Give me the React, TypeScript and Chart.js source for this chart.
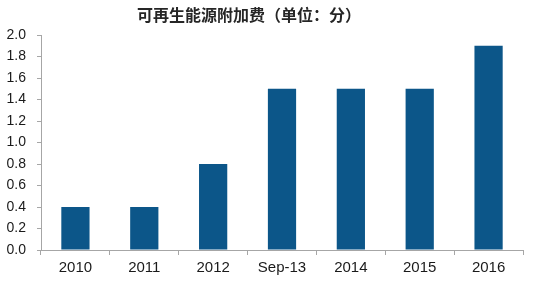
import React, { useEffect, useRef } from "react";
import { Chart, registerables } from "chart.js";

Chart.register(...registerables);

const categories = ["2010", "2011", "2012", "Sep-13", "2014", "2015", "2016"];
const surcharge = [0.4, 0.4, 0.8, 1.5, 1.5, 1.5, 1.9];
const yTicks = [0, 0.2, 0.4, 0.6, 0.8, 1.0, 1.2, 1.4, 1.6, 1.8, 2.0];
const titleText = "可再生能源附加费（单位：分）";

const W = 537;
const H = 287;
const AXIS = "#a6a6a6";

const titlePlugin = {
  id: "topTitle",
  afterDraw(chart: any) {
    const ctx = chart.ctx;
    ctx.save();
    ctx.fillStyle = "#262626";
    ctx.font = "bold 16px 'Noto Sans CJK SC', sans-serif";
    ctx.textAlign = "center";
    ctx.textBaseline = "middle";
    ctx.fillText(titleText, 249, 15);
    ctx.restore();
  },
};

export default function App() {
  const ref = useRef<HTMLCanvasElement | null>(null);

  useEffect(() => {
    if (!ref.current) return;
    const chart = new Chart(ref.current, {
      type: "bar",
      data: {
        labels: categories,
        datasets: [
          {
            data: surcharge,
            backgroundColor: "#0c5689",
            barPercentage: 0.41,
            categoryPercentage: 1,
          },
        ],
      },
      options: {
        responsive: false,
        animation: false,
        layout: { padding: { top: 35, right: 14, left: 0, bottom: 0 } },
        plugins: { legend: { display: false }, tooltip: { enabled: false } },
        scales: {
          x: {
            grid: {
              drawOnChartArea: false,
              drawTicks: true,
              tickLength: 5,
              color: AXIS,
              offset: true,
            },
            border: { color: AXIS },
            ticks: {
              color: "#1a1a1a",
              padding: 4,
              font: { family: "'Liberation Sans', Arial", size: 15 },
            },
            afterFit(scale: any) {
              scale.height = H - 250;
            },
          },
          y: {
            min: 0,
            max: 2,
            afterBuildTicks(scale: any) {
              scale.ticks = yTicks.map((v) => ({ value: v }));
            },
            grid: {
              drawOnChartArea: false,
              drawTicks: true,
              tickLength: 4,
              color: AXIS,
            },
            border: { color: AXIS },
            ticks: {
              color: "#1a1a1a",
              padding: 11,
              font: { family: "'Liberation Sans', Arial", size: 14 },
              callback: (v: any) => Number(v).toFixed(1),
            },
            afterFit(scale: any) {
              scale.width = 41;
            },
          },
        },
      },
      plugins: [titlePlugin],
    });
    return () => chart.destroy();
  }, []);

  return (
    <div style={{ position: "fixed", left: 0, top: 0, width: W, height: H, background: "#fff" }}>
      <canvas ref={ref} width={W} height={H} style={{ width: W, height: H, display: "block" }} />
    </div>
  );
}
